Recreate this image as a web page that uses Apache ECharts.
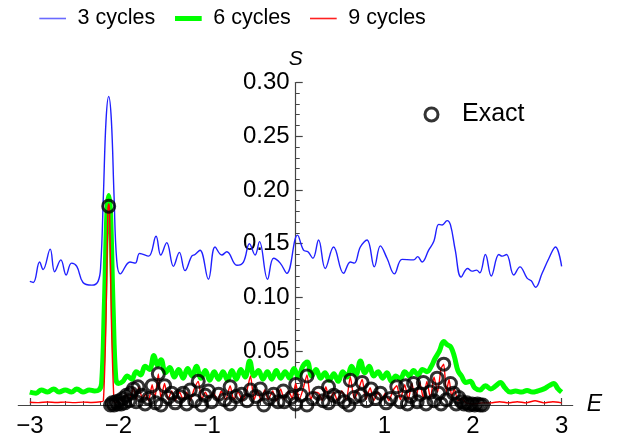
<!DOCTYPE html>
<html><head><meta charset="utf-8">
<script src="https://cdn.jsdelivr.net/npm/echarts@6/dist/echarts.min.js"></script>
<style>html,body{margin:0;padding:0;background:#fff}#c{width:621px;height:443px}</style>
</head><body><div id="c"></div>
<script>
const xMajor = [-3, -2, -1, 1, 2, 3];
const yMajor = [0.05, 0.10, 0.15, 0.20, 0.25, 0.30];
const seriesNames = ['3 cycles', '6 cycles', '9 cycles', 'Exact'];

const cycles3 = [[-3.0,0.115],[-2.96,0.114],[-2.89,0.133],[-2.85,0.126],[-2.77,0.145],[-2.72,0.124],[-2.65,0.135],[-2.59,0.121],[-2.53,0.132],[-2.47,0.129],[-2.40,0.114],[-2.30,0.1115],[-2.23,0.115],[-2.20,0.13],[-2.17,0.195],[-2.14,0.265],[-2.11,0.287],[-2.08,0.265],[-2.05,0.195],[-2.02,0.135],[-1.98,0.122],[-1.87,0.133],[-1.81,0.132],[-1.76,0.141],[-1.66,0.1385],[-1.576,0.157],[-1.523,0.1395],[-1.455,0.151],[-1.38,0.129],[-1.313,0.142],[-1.249,0.125],[-1.173,0.1385],[-1.136,0.140],[-1.08,0.144],[-0.985,0.117],[-0.91,0.147],[-0.834,0.1395],[-0.777,0.1425],[-0.664,0.130],[-0.59,0.133],[-0.522,0.150],[-0.458,0.1395],[-0.409,0.152],[-0.318,0.117],[-0.25,0.1365],[-0.175,0.132],[-0.10,0.1225],[0.02,0.158],[0.088,0.144],[0.138,0.1425],[0.194,0.1365],[0.258,0.1535],[0.333,0.127],[0.427,0.147],[0.54,0.1225],[0.616,0.133],[0.661,0.132],[0.729,0.147],[0.805,0.1535],[0.887,0.1285],[0.955,0.148],[1.03,0.1365],[1.113,0.122],[1.20,0.1355],[1.33,0.135],[1.376,0.138],[1.426,0.133],[1.50,0.144],[1.557,0.152],[1.614,0.168],[1.652,0.1675],[1.708,0.1715],[1.746,0.1675],[1.80,0.144],[1.866,0.119],[1.94,0.127],[1.99,0.1245],[2.04,0.1255],[2.077,0.123],[2.14,0.140],[2.206,0.120],[2.292,0.140],[2.33,0.1385],[2.378,0.140],[2.46,0.121],[2.53,0.1285],[2.61,0.118],[2.657,0.1155],[2.706,0.1095],[2.78,0.1225],[2.857,0.1365],[2.93,0.147],[3.0,0.129]];

const cycles6 = [[-3.0,0.012],[-2.93,0.011],[-2.87,0.014],[-2.8,0.012],[-2.73,0.015],[-2.67,0.012],[-2.6,0.014],[-2.53,0.012],[-2.47,0.015],[-2.4,0.012],[-2.33,0.014],[-2.27,0.013],[-2.22,0.014],[-2.19,0.02],[-2.16,0.09],[-2.13,0.18],[-2.11,0.195],[-2.09,0.18],[-2.06,0.09],[-2.03,0.025],[-2.0,0.02],[-1.95,0.022],[-1.9,0.027],[-1.85,0.024],[-1.8,0.031],[-1.75,0.028],[-1.7,0.036],[-1.65,0.033],[-1.6,0.046],[-1.56,0.037],[-1.52,0.042],[-1.47,0.030],[-1.42,0.035],[-1.37,0.026],[-1.32,0.033],[-1.27,0.025],[-1.22,0.034],[-1.17,0.027],[-1.12,0.036],[-1.07,0.025],[-1.02,0.032],[-0.97,0.023],[-0.92,0.031],[-0.87,0.024],[-0.82,0.031],[-0.77,0.023],[-0.72,0.032],[-0.67,0.024],[-0.62,0.033],[-0.57,0.026],[-0.52,0.041],[-0.47,0.027],[-0.42,0.032],[-0.37,0.024],[-0.32,0.031],[-0.27,0.024],[-0.22,0.032],[-0.17,0.025],[-0.12,0.031],[-0.07,0.025],[-0.02,0.034],[0.03,0.026],[0.08,0.036],[0.13,0.040],[0.18,0.027],[0.23,0.033],[0.28,0.025],[0.33,0.030],[0.38,0.023],[0.43,0.029],[0.48,0.022],[0.53,0.031],[0.58,0.026],[0.63,0.036],[0.68,0.028],[0.73,0.041],[0.78,0.030],[0.83,0.036],[0.88,0.027],[0.93,0.031],[0.98,0.025],[1.03,0.030],[1.08,0.022],[1.13,0.027],[1.18,0.024],[1.23,0.031],[1.28,0.027],[1.33,0.032],[1.38,0.028],[1.43,0.033],[1.48,0.031],[1.53,0.036],[1.57,0.043],[1.62,0.05],[1.67,0.059],[1.71,0.056],[1.75,0.054],[1.79,0.045],[1.83,0.032],[1.87,0.027],[1.92,0.021],[1.97,0.022],[2.02,0.016],[2.08,0.014],[2.14,0.018],[2.2,0.015],[2.26,0.018],[2.31,0.021],[2.36,0.016],[2.42,0.012],[2.48,0.013],[2.55,0.012],[2.61,0.0135],[2.67,0.012],[2.73,0.013],[2.8,0.015],[2.86,0.018],[2.91,0.02],[2.96,0.015],[3.0,0.012]];

const cycles9 = [[-3.0,0.0026],[-2.9,0.0022],[-2.8,0.0028],[-2.7,0.0023],[-2.6,0.0027],[-2.5,0.0022],[-2.4,0.0027],[-2.3,0.0023],[-2.2,0.003],[-2.17,0.004],[-2.14,0.08],[-2.12,0.18],[-2.11,0.187],[-2.10,0.18],[-2.08,0.08],[-2.05,0.003],[-2.03,0.002],[-1.99,0.006],[-1.95,0.003],[-1.91,0.010],[-1.88,0.004],[-1.83,0.016],[-1.80,0.005],[-1.77,0.017],[-1.73,0.006],[-1.69,0.010],[-1.66,0.004],[-1.62,0.019],[-1.59,0.006],[-1.55,0.029],[-1.52,0.006],[-1.48,0.020],[-1.44,0.005],[-1.40,0.013],[-1.36,0.004],[-1.31,0.012],[-1.27,0.005],[-1.23,0.012],[-1.19,0.004],[-1.15,0.014],[-1.10,0.022],[-1.06,0.005],[-1.02,0.012],[-0.98,0.006],[-0.93,0.012],[-0.88,0.004],[-0.84,0.013],[-0.79,0.005],[-0.74,0.018],[-0.70,0.005],[-0.65,0.012],[-0.60,0.004],[-0.55,0.014],[-0.51,0.027],[-0.47,0.005],[-0.43,0.013],[-0.39,0.004],[-0.35,0.014],[-0.31,0.005],[-0.26,0.013],[-0.22,0.004],[-0.17,0.015],[-0.13,0.005],[-0.08,0.013],[-0.04,0.006],[0.00,0.020],[0.04,0.005],[0.08,0.014],[0.127,0.028],[0.17,0.005],[0.21,0.012],[0.26,0.011],[0.30,0.004],[0.34,0.017],[0.38,0.005],[0.43,0.012],[0.47,0.004],[0.52,0.013],[0.57,0.005],[0.616,0.026],[0.66,0.006],[0.70,0.012],[0.75,0.024],[0.79,0.005],[0.84,0.016],[0.88,0.004],[0.93,0.012],[0.97,0.005],[1.01,0.011],[1.05,0.004],[1.10,0.014],[1.14,0.018],[1.18,0.005],[1.23,0.019],[1.27,0.005],[1.31,0.020],[1.35,0.006],[1.40,0.021],[1.44,0.006],[1.48,0.022],[1.52,0.006],[1.56,0.026],[1.60,0.012],[1.64,0.034],[1.67,0.038],[1.70,0.012],[1.73,0.024],[1.76,0.008],[1.79,0.015],[1.83,0.004],[1.87,0.006],[1.92,0.002],[2.0,0.001],[2.1,0.002],[2.2,0.002],[2.3,0.003],[2.4,0.002],[2.5,0.003],[2.6,0.002],[2.7,0.004],[2.8,0.002],[2.9,0.003],[3.0,0.002]];

const exact = [[-2.11,0.185],[-2.09,0.000],[-2.07,0.002],[-2.05,0.000],[-2.03,0.003],[-2.01,0.001],[-1.99,0.004],[-1.97,0.001],[-1.95,0.006],[-1.93,0.002],[-1.91,0.009],[-1.88,0.004],[-1.86,0.011],[-1.83,0.015],[-1.80,0.003],[-1.78,0.017],[-1.74,0.009],[-1.70,0.001],[-1.66,0.006],[-1.62,0.018],[-1.58,0.002],[-1.55,0.029],[-1.52,0.000],[-1.48,0.018],[-1.44,0.007],[-1.40,0.011],[-1.36,0.002],[-1.31,0.008],[-1.27,0.011],[-1.23,0.001],[-1.19,0.014],[-1.14,0.004],[-1.10,0.022],[-1.06,0.000],[-1.02,0.009],[-0.985,0.013],[-0.95,0.003],[-0.87,0.010],[-0.80,0.005],[-0.74,0.017],[-0.74,0.001],[-0.67,0.008],[-0.61,0.010],[-0.55,0.004],[-0.51,0.014],[-0.45,0.008],[-0.40,0.015],[-0.36,0.000],[-0.30,0.006],[-0.25,0.010],[-0.20,0.003],[-0.14,0.013],[-0.13,0.003],[-0.05,0.007],[0.0,0.019],[0.0,0.001],[0.06,0.009],[0.127,0.027],[0.127,0.000],[0.19,0.006],[0.258,0.011],[0.31,0.004],[0.37,0.017],[0.37,0.002],[0.43,0.009],[0.484,0.007],[0.55,0.003],[0.60,0.000],[0.616,0.023],[0.66,0.007],[0.73,0.009],[0.75,0.021],[0.80,0.004],[0.85,0.015],[0.90,0.006],[0.955,0.011],[1.02,0.002],[1.07,0.006],[1.14,0.017],[1.18,0.003],[1.24,0.018],[1.26,0.001],[1.30,0.008],[1.33,0.020],[1.37,0.003],[1.40,0.010],[1.44,0.021],[1.47,0.001],[1.52,0.012],[1.56,0.004],[1.595,0.025],[1.614,0.011],[1.64,0.001],[1.67,0.038],[1.70,0.005],[1.746,0.020],[1.78,0.011],[1.81,0.001],[1.84,0.007],[1.87,0.003],[1.90,0.001],[1.93,0.002],[1.96,0.000],[1.99,0.001],[2.02,0.000],[2.05,0.001],[2.08,0.000],[2.11,0.000]];

const xMinor = [];
for (let i = -15; i <= 15; i++) { if (i % 5 !== 0) xMinor.push(+(i * 0.2).toFixed(2)); }
const yMinor = [];
for (let i = 1; i <= 29; i++) { if (i % 5 !== 0) yMinor.push(+(i * 0.01).toFixed(2)); }

const axisColor = '#444';
const fontFam = '"Liberation Sans", Arial, sans-serif';
const xMin = -3.13, xMax = 3.125, yMin = -0.012, yMax = 0.30;

// layout (pixels)
const W = 621, H = 443;
const gLeft = 18.3, gRight = 48.3, gTop = 82.5, gBottom = 25.1;
const plotW = W - gLeft - gRight, plotH = H - gTop - gBottom;
// offsets so that axes cross at the origin
const yAxisOffset = -((0 - xMin) / (xMax - xMin) * plotW);
const xAxisOffset = -((0 - yMin) / (yMax - yMin) * plotH);

const colors = ['#2020ff', '#00ff00', '#ff0000'];
const legendIconColors = ['#6a6aff', '#00ff00', '#ff2020'];
const legendH = [1.6, 5, 1.6];
const legendLeft = [39.3, 175, 310];
const legendTop = 7.5;

const lineLegends = [0, 1, 2].map(i => ({
  data: [{name: seriesNames[i], icon: 'rect', itemStyle: {color: legendIconColors[i]}}],
  left: legendLeft[i], top: legendTop, padding: 0,
  itemWidth: 26.7, itemHeight: legendH[i],
  textStyle: {fontSize: 21.5, color: '#000', fontFamily: fontFam, padding: [0, 0, 0, 6.5]}
}));

const chart = echarts.init(document.getElementById('c'), null, {renderer: 'canvas'});
chart.setOption({
  animation: false,
  backgroundColor: '#fff',
  grid: {left: gLeft, right: gRight, top: gTop, bottom: gBottom, containLabel: false, outerBoundsMode: 'none'},
  legend: lineLegends.concat([{
    data: [{name: seriesNames[3], icon: 'circle'}],
    left: 423.5, top: 102, padding: 0, itemWidth: 13, itemHeight: 13,
    itemStyle: {color: 'rgba(0,0,0,0)', borderColor: '#000', borderWidth: 3},
    textStyle: {fontSize: 25, color: '#000', fontFamily: fontFam, padding: [0, 0, 0, 19]}
  }]),
  xAxis: [{
    type: 'value', min: xMin, max: xMax, position: 'bottom', offset: xAxisOffset,
    name: 'E', nameLocation: 'end', nameGap: 14,
    nameTextStyle: {fontSize: 23, fontStyle: 'italic', color: '#000', fontFamily: fontFam},
    axisLine: {onZero: false, lineStyle: {color: axisColor, width: 1.2}},
    axisTick: {show: true, inside: true, length: 7, customValues: xMajor, lineStyle: {color: axisColor, width: 1.2}},
    axisLabel: {show: true, customValues: xMajor, margin: 9, fontSize: 24, color: '#000', fontFamily: fontFam,
      formatter: v => v < 0 ? '\u2212' + (-v) : String(v)},
    splitLine: {show: false}
  }, {
    type: 'value', min: xMin, max: xMax, position: 'bottom', offset: xAxisOffset,
    axisLine: {show: false, onZero: false},
    axisTick: {show: true, inside: true, length: 4, customValues: xMinor, lineStyle: {color: axisColor, width: 1}},
    axisLabel: {show: false},
    splitLine: {show: false}
  }],
  yAxis: [{
    type: 'value', min: yMin, max: yMax, position: 'left', offset: yAxisOffset,
    name: 'S', nameLocation: 'end', nameGap: 13,
    nameTextStyle: {fontSize: 21, fontStyle: 'italic', color: '#000', fontFamily: fontFam},
    axisLine: {onZero: false, lineStyle: {color: axisColor, width: 1.2}},
    axisTick: {show: true, inside: true, length: 7, customValues: yMajor, lineStyle: {color: axisColor, width: 1.2}},
    axisLabel: {show: true, customValues: yMajor, margin: 6, fontSize: 24, color: '#000', fontFamily: fontFam,
      formatter: v => v.toFixed(2)},
    splitLine: {show: false}
  }, {
    type: 'value', min: yMin, max: yMax, position: 'left', offset: yAxisOffset,
    axisLine: {show: false, onZero: false},
    axisTick: {show: true, inside: true, length: 4, customValues: yMinor, lineStyle: {color: axisColor, width: 1}},
    axisLabel: {show: false},
    splitLine: {show: false}
  }],
  series: [{
    name: seriesNames[0], type: 'line', data: cycles3, symbol: 'none', smooth: 0.4,
    lineStyle: {color: colors[0], width: 1.4}, itemStyle: {color: colors[0]}, z: 2
  }, {
    name: seriesNames[1], type: 'line', data: cycles6, symbol: 'none', smooth: 0.4,
    lineStyle: {color: colors[1], width: 5}, itemStyle: {color: colors[1]}, z: 3
  }, {
    name: seriesNames[2], type: 'line', data: cycles9, symbol: 'none', smooth: 0.2,
    lineStyle: {color: colors[2], width: 1.4}, itemStyle: {color: colors[2]}, z: 4
  }, {
    name: seriesNames[3], type: 'scatter', data: exact, symbol: 'circle', symbolSize: 12,
    itemStyle: {color: 'rgba(0,0,0,0)', borderColor: '#000', borderWidth: 3}, z: 5
  }]
});
</script></body></html>
